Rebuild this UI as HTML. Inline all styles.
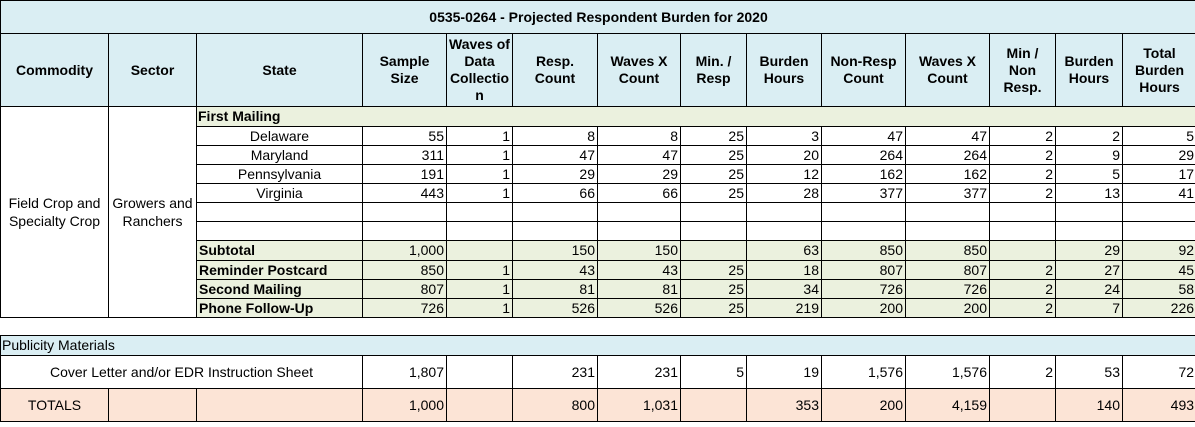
<!DOCTYPE html>
<html><head><meta charset="utf-8"><style>
body{margin:0;width:1195px;height:427px;background:#fff;overflow:hidden;font-family:"Liberation Sans",sans-serif;font-size:14px;color:#000}
table{border-collapse:collapse;table-layout:fixed;position:absolute;left:0}
td{border:1px solid #000;padding:0 2px;white-space:nowrap;overflow:hidden;line-height:15px}
.h td{background:#daeef3;font-weight:bold;text-align:center;white-space:normal;line-height:17px;padding:0 7px}
.t td{background:#daeef3;font-weight:bold;text-align:center}
.r{text-align:right}
.c{text-align:center}
.g td.x{background:#ebf1de}
.b{font-weight:bold}
.tot td{background:#fce4d6}
</style></head><body>
<table style="top:0;width:1196px">
<colgroup><col style="width:108px"><col style="width:88px"><col style="width:166px"><col style="width:84px"><col style="width:66px"><col style="width:85px"><col style="width:83px"><col style="width:66px"><col style="width:75px"><col style="width:84px"><col style="width:84px"><col style="width:66px"><col style="width:67px"><col style="width:74px"></colgroup>
<tr class="t" style="height:33px"><td colspan="14">0535-0264 - Projected Respondent Burden for 2020</td></tr>
<tr class="h" style="height:73px"><td>Commodity</td><td>Sector</td><td>State</td><td>Sample Size</td><td style="padding:0 1px">Waves of Data Collectio n</td><td>Resp. Count</td><td>Waves X Count</td><td>Min. / Resp</td><td>Burden Hours</td><td style="padding:0 3px">Non-Resp Count</td><td>Waves X Count</td><td>Min / Non Resp.</td><td style="padding:0 3px">Burden Hours</td><td style="padding:0 3px">Total Burden Hours</td></tr>
<tr class="g" style="height:20px"><td rowspan="12" class="c" style="white-space:normal;line-height:18px">Field Crop and Specialty Crop</td><td rowspan="12" class="c" style="white-space:normal;line-height:18px">Growers and Ranchers</td><td colspan="12" class="x b" style="padding-left:1px">First Mailing</td></tr>
<tr style="height:19px"><td class="c">Delaware</td><td class="r">55</td><td class="r">1</td><td class="r">8</td><td class="r">8</td><td class="r">25</td><td class="r">3</td><td class="r">47</td><td class="r">47</td><td class="r">2</td><td class="r">2</td><td class="r">5</td></tr>
<tr style="height:19px"><td class="c">Maryland</td><td class="r">311</td><td class="r">1</td><td class="r">47</td><td class="r">47</td><td class="r">25</td><td class="r">20</td><td class="r">264</td><td class="r">264</td><td class="r">2</td><td class="r">9</td><td class="r">29</td></tr>
<tr style="height:19px"><td class="c">Pennsylvania</td><td class="r">191</td><td class="r">1</td><td class="r">29</td><td class="r">29</td><td class="r">25</td><td class="r">12</td><td class="r">162</td><td class="r">162</td><td class="r">2</td><td class="r">5</td><td class="r">17</td></tr>
<tr style="height:19px"><td class="c">Virginia</td><td class="r">443</td><td class="r">1</td><td class="r">66</td><td class="r">66</td><td class="r">25</td><td class="r">28</td><td class="r">377</td><td class="r">377</td><td class="r">2</td><td class="r">13</td><td class="r">41</td></tr>
<tr style="height:19px"><td></td><td></td><td></td><td></td><td></td><td></td><td></td><td></td><td></td><td></td><td></td><td></td></tr>
<tr style="height:19px"><td></td><td></td><td></td><td></td><td></td><td></td><td></td><td></td><td></td><td></td><td></td><td></td></tr>
<tr class="g" style="height:20px"><td class="x b">Subtotal</td><td class="x r">1,000</td><td class="x"></td><td class="x r">150</td><td class="x r">150</td><td class="x"></td><td class="x r">63</td><td class="x r">850</td><td class="x r">850</td><td class="x"></td><td class="x r">29</td><td class="x r">92</td></tr>
<tr class="g" style="height:19px"><td class="x b">Reminder Postcard</td><td class="x r">850</td><td class="x r">1</td><td class="x r">43</td><td class="x r">43</td><td class="x r">25</td><td class="x r">18</td><td class="x r">807</td><td class="x r">807</td><td class="x r">2</td><td class="x r">27</td><td class="x r">45</td></tr>
<tr class="g" style="height:19px"><td class="x b">Second Mailing</td><td class="x r">807</td><td class="x r">1</td><td class="x r">81</td><td class="x r">81</td><td class="x r">25</td><td class="x r">34</td><td class="x r">726</td><td class="x r">726</td><td class="x r">2</td><td class="x r">24</td><td class="x r">58</td></tr>
<tr class="g" style="height:19px"><td class="x b">Phone Follow-Up</td><td class="x r">726</td><td class="x r">1</td><td class="x r">526</td><td class="x r">526</td><td class="x r">25</td><td class="x r">219</td><td class="x r">200</td><td class="x r">200</td><td class="x r">2</td><td class="x r">7</td><td class="x r">226</td></tr>
</table>
<table style="top:335px;width:1196px">
<colgroup><col style="width:108px"><col style="width:88px"><col style="width:166px"><col style="width:84px"><col style="width:66px"><col style="width:85px"><col style="width:83px"><col style="width:66px"><col style="width:75px"><col style="width:84px"><col style="width:84px"><col style="width:66px"><col style="width:67px"><col style="width:74px"></colgroup>
<tr style="height:20px"><td colspan="14" style="background:#daeef3;padding-left:1px">Publicity Materials</td></tr>
<tr style="height:33px"><td colspan="3" class="c">Cover Letter and/or EDR Instruction Sheet</td><td class="r">1,807</td><td></td><td class="r">231</td><td class="r">231</td><td class="r">5</td><td class="r">19</td><td class="r">1,576</td><td class="r">1,576</td><td class="r">2</td><td class="r">53</td><td class="r">72</td></tr>
<tr class="tot" style="height:33px"><td class="c">TOTALS</td><td></td><td></td><td class="r">1,000</td><td></td><td class="r">800</td><td class="r">1,031</td><td></td><td class="r">353</td><td class="r">200</td><td class="r">4,159</td><td></td><td class="r">140</td><td class="r">493</td></tr>
</table>
</body></html>
